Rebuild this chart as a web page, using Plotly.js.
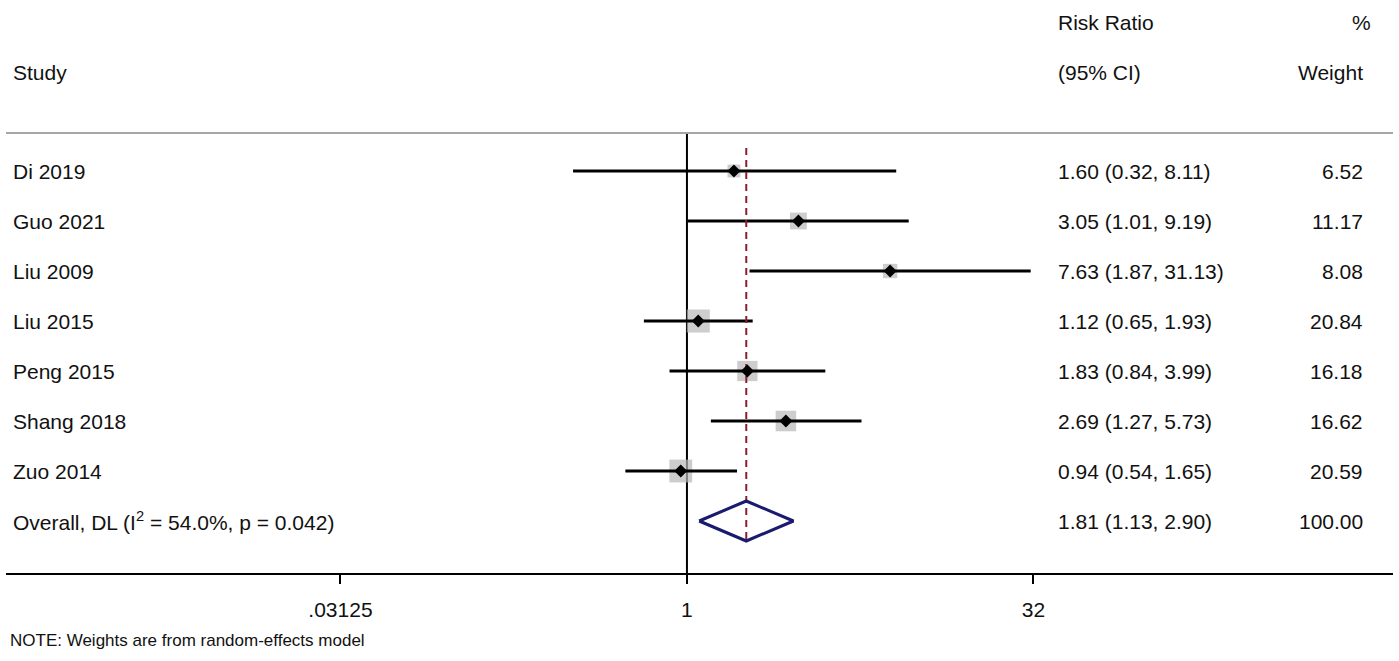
<!DOCTYPE html>
<html>
<head>
<meta charset="utf-8">
<script src="https://cdn.plot.ly/plotly-3.0.1.min.js"></script>
<style>
  html, body { margin: 0; padding: 0; background: #fff; }
  #forest { width: 1399px; height: 661px; }
</style>
</head>
<body>
<div id="forest"></div>
<script>
var studies = ["Di 2019", "Guo 2021", "Liu 2009", "Liu 2015", "Peng 2015", "Shang 2018", "Zuo 2014"];
var riskRatio = [1.60, 3.05, 7.63, 1.12, 1.83, 2.69, 0.94];
var ciLow = [0.32, 1.01, 1.87, 0.65, 0.84, 1.27, 0.54];
var ciHigh = [8.11, 9.19, 31.13, 1.93, 3.99, 5.73, 1.65];
var weights = [6.52, 11.17, 8.08, 20.84, 16.18, 16.62, 20.59];

var overallLabel = "Overall, DL (I<sup>2</sup> = 54.0%, p = 0.042)";
var overallEst = [1.81];
var overallLow = [1.13];
var overallHigh = [2.90];
var overallWeight = [100.00];

var tickVals = [0.03125, 1, 32];
var tickText = [".03125", "1", "32"];

var FONT = "'Liberation Sans', Arial, sans-serif";
var W = 1399, H = 661, ML = 6, MR = 6, MB = 88;
var rows = studies.map(function(s, i) { return i + 1; });
var overallRow = studies.length + 1;

// pixel -> paper helper for the text columns
var px = function(p) { return (p - ML) / (W - ML - MR); };

var fmt = function(v) { return v.toFixed(2); };

// confidence interval segments
var ciX = [], ciY = [];
rows.forEach(function(r, i) {
  ciX.push(ciLow[i], ciHigh[i], null);
  ciY.push(r, r, null);
});

var maxW = Math.max.apply(null, weights);
var boxSizes = weights.map(function(w) { return 23 * Math.sqrt(w / maxW); });

var dh = 0.4;
var diamondX = [overallLow[0], overallEst[0], overallHigh[0], overallEst[0], overallLow[0]];
var diamondY = [overallRow, overallRow - dh, overallRow, overallRow + dh, overallRow];

var data = [
  {
    type: "scatter", mode: "lines",
    x: [1, 1], y: [0.24, 9.04],
    line: { color: "#000", width: 2 }
  },
  {
    type: "scatter", mode: "markers",
    x: riskRatio, y: rows,
    marker: { symbol: "square", size: boxSizes, color: "#b8b8b8", line: { width: 0 } }
  },
  {
    type: "scatter", mode: "lines",
    x: ciX, y: ciY,
    line: { color: "#000", width: 3.2 }
  },
  {
    type: "scatter", mode: "lines",
    x: [overallEst[0], overallEst[0]], y: [0.54, overallRow + dh],
    line: { color: "#8b1f2c", width: 2, dash: "7px,5px" }
  },
  {
    type: "scatter", mode: "markers",
    x: riskRatio, y: rows,
    marker: { symbol: "diamond", size: 10, color: "#000" }
  },
  {
    type: "scatter", mode: "lines",
    x: diamondX, y: diamondY,
    line: { color: "#1a1a6e", width: 3 }
  }
];

var textFont = { family: FONT, size: 21, color: "#111" };
var annotations = [];
var addText = function(text, xp, y, anchor, font, yref) {
  annotations.push({
    text: text, xref: "paper", yref: yref || "y", x: px(xp), y: y,
    xanchor: anchor, yanchor: "middle", showarrow: false,
    font: font || textFont
  });
};

addText("Study", 11, -0.98, "left");
addText("Risk Ratio", 1056, -1.98, "left");
addText("(95% CI)", 1056, -0.98, "left");
addText("%", 1373, -1.98, "right");
addText("Weight", 1365, -0.98, "right");

rows.forEach(function(r, i) {
  addText(studies[i], 11, r, "left");
  addText(fmt(riskRatio[i]) + " (" + fmt(ciLow[i]) + ", " + fmt(ciHigh[i]) + ")", 1056, r, "left");
  addText(fmt(weights[i]), 1365, r, "right");
});
addText(overallLabel, 11, overallRow, "left");
addText(fmt(overallEst[0]) + " (" + fmt(overallLow[0]) + ", " + fmt(overallHigh[0]) + ")", 1056, overallRow, "left");
addText(fmt(overallWeight[0]), 1365, overallRow, "right");

addText("NOTE: Weights are from random-effects model", 8, (H - MB - 640) / (H - MB), "left",
  { family: FONT, size: 17, color: "#111" }, "paper");

var layout = {
  width: W, height: H,
  margin: { l: ML, r: MR, t: 0, b: MB },
  paper_bgcolor: "#fff", plot_bgcolor: "#fff",
  showlegend: false,
  xaxis: {
    type: "log",
    range: [-2.958, 3.067],
    tickvals: tickVals, ticktext: tickText,
    ticks: "outside", ticklen: 9, tickwidth: 2, tickcolor: "#000",
    showline: true, linecolor: "#000", linewidth: 2,
    showgrid: false, zeroline: false,
    tickfont: { family: FONT, size: 21, color: "#111" },
    ticklabelstandoff: 8
  },
  yaxis: {
    range: [9.04, -2.42],
    visible: false, showgrid: false, zeroline: false
  },
  shapes: [
    {
      type: "line", xref: "paper", yref: "y",
      x0: 0, x1: 1, y0: 0.24, y1: 0.24,
      line: { color: "#a6a6a6", width: 2 }
    }
  ],
  annotations: annotations
};

Plotly.newPlot("forest", data, layout, { displayModeBar: false, staticPlot: true });
</script>
</body>
</html>
